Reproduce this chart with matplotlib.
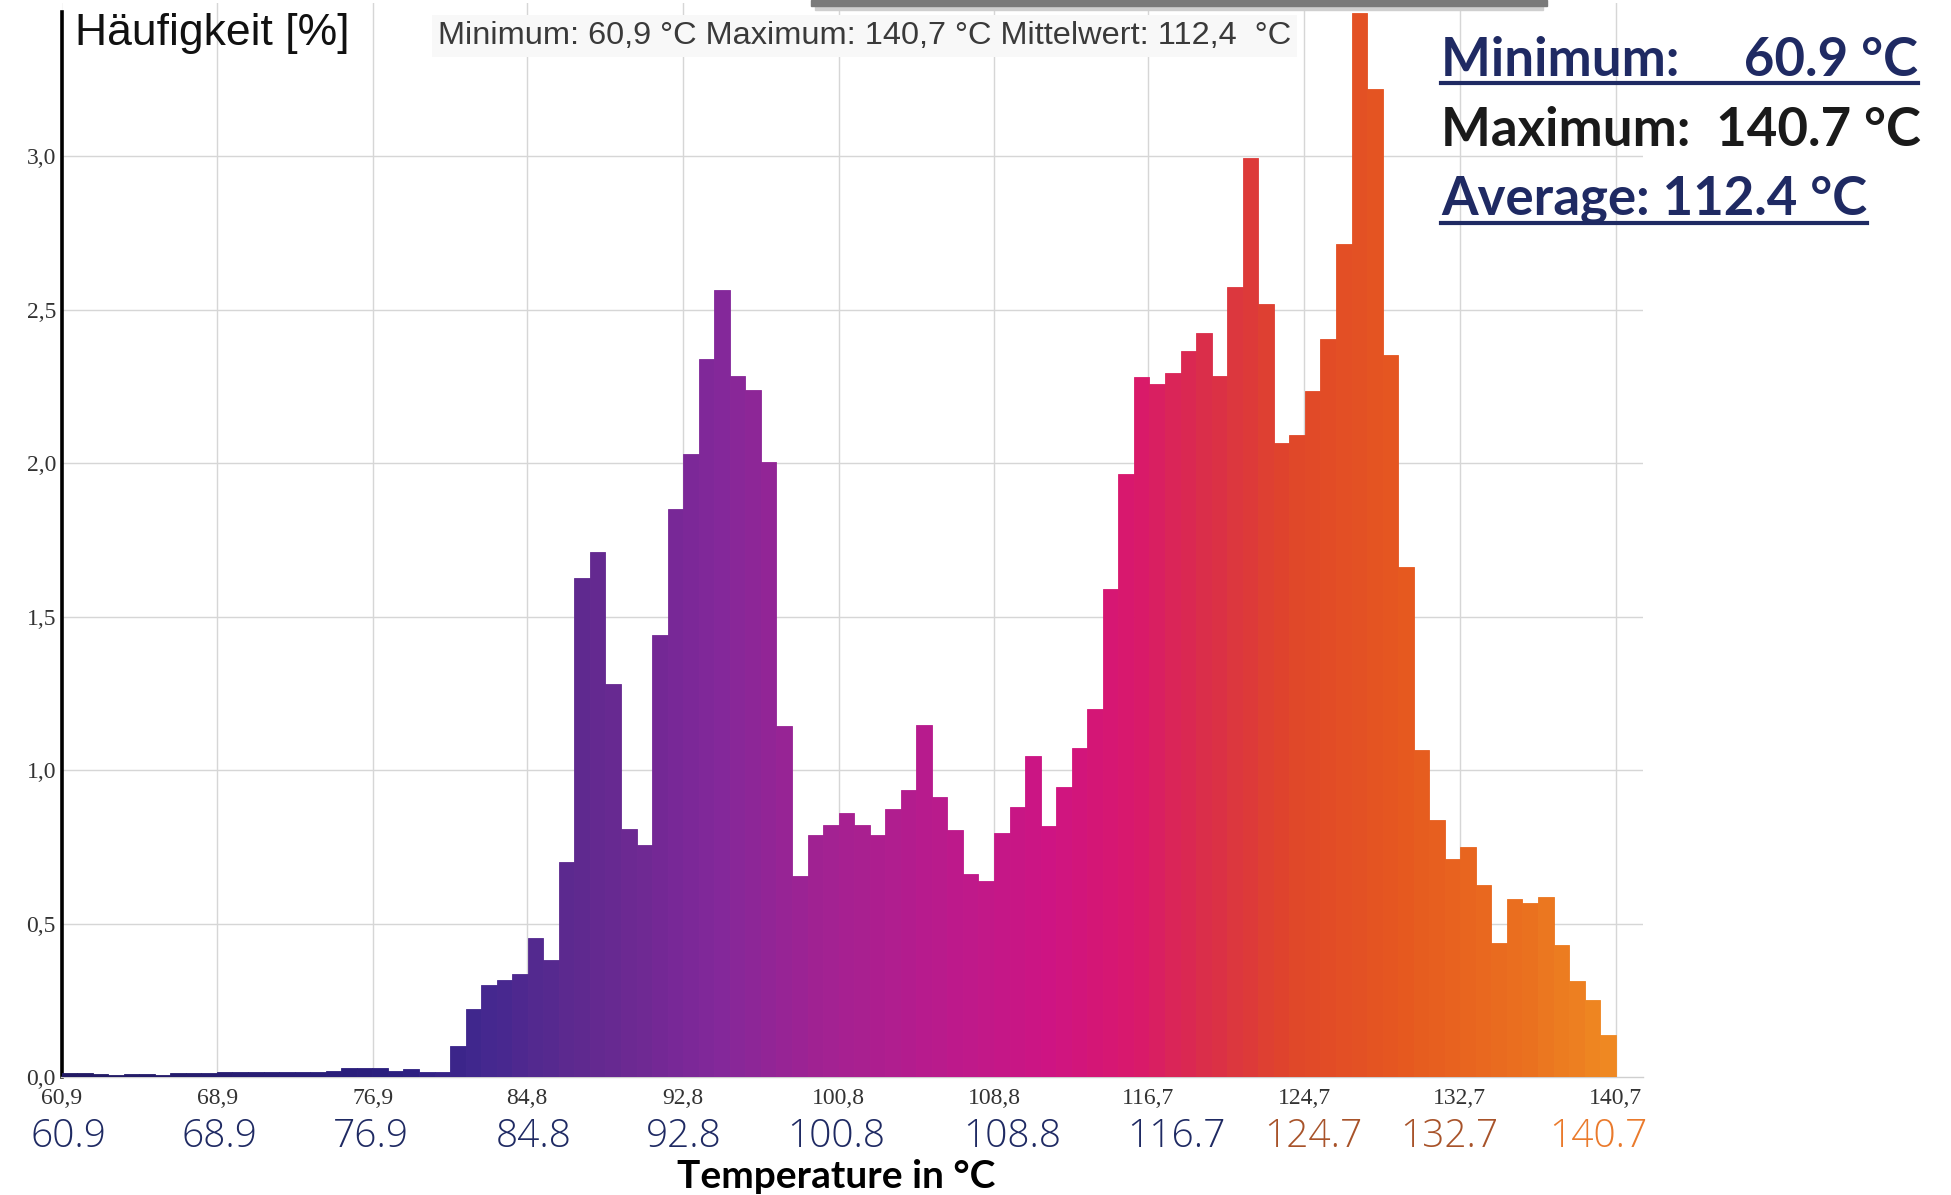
import numpy as np
import matplotlib
matplotlib.use("Agg")
import matplotlib.pyplot as plt
from matplotlib.colors import LinearSegmentedColormap
from matplotlib.lines import Line2D
from matplotlib.patches import Rectangle

# Histogram of temperature (100 bins between min and max), Häufigkeit in %
t_min = 60.9
t_max = 140.7
freq = [
    0.013, 0.013, 0.010, 0.005, 0.010, 0.010, 0.005, 0.013, 0.013, 0.013,
    0.015, 0.015, 0.015, 0.015, 0.016, 0.017, 0.017, 0.018, 0.030, 0.028,
    0.028, 0.020, 0.027, 0.015, 0.015, 0.100, 0.220, 0.300, 0.315, 0.336,
    0.453, 0.380, 0.700, 1.626, 1.710, 1.280, 0.807, 0.755, 1.440, 1.850,
    2.030, 2.340, 2.566, 2.286, 2.240, 2.005, 1.143, 0.655, 0.788, 0.820,
    0.861, 0.820, 0.790, 0.875, 0.935, 1.147, 0.913, 0.804, 0.663, 0.638,
    0.794, 0.880, 1.046, 0.818, 0.946, 1.073, 1.200, 1.590, 1.966, 2.280,
    2.260, 2.295, 2.365, 2.425, 2.285, 2.575, 2.994, 2.520, 2.066, 2.092,
    2.235, 2.405, 2.715, 3.467, 3.220, 2.354, 1.662, 1.066, 0.839, 0.710,
    0.748, 0.626, 0.438, 0.580, 0.567, 0.585, 0.430, 0.313, 0.250, 0.136,
]
x_ticks = [60.9, 68.9, 76.9, 84.8, 92.8, 100.8, 108.8, 116.7, 124.7, 132.7, 140.7]
y_ticks = [0.0, 0.5, 1.0, 1.5, 2.0, 2.5, 3.0]
big_label_colors = ["#1f2a63"] * 8 + ["#a8532a", "#a8532a", "#ea7a2c"]
# the big labels were placed by hand, a bit off the ticks (pixels)
big_label_shift = [7, 2, -2, 7, 1, -2, 18, 28, 9, -11, -17]

# colour ramp of the thermal palette
ramp = LinearSegmentedColormap.from_list("thermal", [
    (0.00, "#221a62"), (0.22, "#2c1f80"), (0.27, "#43288f"),
    (0.34, "#62298f"), (0.42, "#82289a"), (0.49, "#a22292"),
    (0.57, "#bb1a8c"), (0.64, "#cf1482"), (0.69, "#d9186c"),
    (0.74, "#da2f48"), (0.79, "#e0462a"), (0.87, "#e65a1f"),
    (0.94, "#ea6f1f"), (1.00, "#ef8a22"),
])

W, H = 1951, 1195
fig = plt.figure(figsize=(W / 100, H / 100), dpi=100)
fig.patch.set_facecolor("white")

def fx(px):
    return px / W

def fy(py):
    return 1 - py / H

ax = fig.add_axes([fx(61.5), fy(1077), (1643 - 61.5) / W, (1077 - 3) / H])

edges = np.linspace(t_min, t_max, len(freq) + 1)
width = edges[1] - edges[0]
centers = edges[:-1] + width / 2
colors = ramp((centers - t_min) / (t_max - t_min))
ax.bar(edges[:-1], freq, width=width, align="edge", color=colors,
       edgecolor=colors, linewidth=0.6, zorder=3)

ax.set_xlim(t_min, 142.1)
ax.set_ylim(0, 3.5)
ax.set_axisbelow(True)
for v in x_ticks:
    ax.axvline(v, color="#d6d6d6", lw=1.0, zorder=1)
for v in y_ticks[1:]:
    ax.axhline(v, color="#d6d6d6", lw=1.0, zorder=1)

for s in ["top", "right"]:
    ax.spines[s].set_visible(False)
ax.spines["left"].set_color("black")
ax.spines["left"].set_linewidth(2.6)
ax.spines["left"].set_bounds(0, 3.47)
ax.spines["bottom"].set_color("#cfcfcf")
ax.spines["bottom"].set_linewidth(1.0)

ax.set_yticks(y_ticks)
ax.set_yticklabels([f"{v:.1f}".replace(".", ",") for v in y_ticks])
ax.set_xticks(x_ticks)
ax.set_xticklabels([f"{v:.1f}".replace(".", ",") for v in x_ticks])
ax.tick_params(axis="both", length=0, labelsize=17, colors="#333333")
ax.tick_params(axis="y", pad=4)
ax.tick_params(axis="x", pad=8)
for lab in ax.get_xticklabels() + ax.get_yticklabels():
    lab.set_fontfamily("Liberation Serif")

# second row of big tick labels
for v, c, dx in zip(x_ticks, big_label_colors, big_label_shift):
    ax.annotate(f"{v:.1f}", xy=(v, 0), xycoords=("data", "axes fraction"),
                xytext=(dx, -60), textcoords="offset pixels",
                ha="center", va="center", fontsize=28, color=c,
                family="Open Sans", fontweight="light")

fig.text(fx(836), fy(1176), "Temperature in °C", ha="center", va="center",
         fontsize=28, fontweight="bold", family="Lato", color="black")

# header texts
fig.text(fx(75), fy(33), "Häufigkeit [%]", ha="left", va="center",
         fontsize=32, family="Liberation Sans", color="#111111")
fig.text(fx(438), fy(36), "Minimum: 60,9 °C Maximum: 140,7 °C Mittelwert: 112,4  °C",
         ha="left", va="center", fontsize=23.4, family="Liberation Sans",
         color="#3a3a3a",
         bbox=dict(facecolor="#f8f8f8", edgecolor="none", pad=4))

# grey bar of a window shadow at the top
fig.patches.append(Rectangle((fx(811), fy(6)), (1547 - 811) / W, 6 / H,
                             transform=fig.transFigure, color="#7a7a7a",
                             zorder=5))
fig.patches.append(Rectangle((fx(815), fy(10)), (1543 - 815) / W, 4 / H,
                             transform=fig.transFigure, color="#cfcfcf",
                             zorder=4))

# summary on the right
navy = "#1f2a63"
summary = [
    ("Minimum:     60.9 °C", navy, 60, True),
    ("Maximum:  140.7 °C", "#1a1a1a", 130, False),
    ("Average: 112.4 °C", navy, 200, True),
]
texts = []
for s, c, py, ul in summary:
    t = fig.text(fx(1441), fy(py), s, ha="left", va="center", fontsize=38,
                 fontweight="bold", family="Lato", color=c)
    texts.append((t, ul, c))

fig.canvas.draw()
renderer = fig.canvas.get_renderer()
for t, ul, c in texts:
    if not ul:
        continue
    bb = t.get_window_extent(renderer)
    yline = bb.y0 + 2
    fig.add_artist(Line2D([bb.x0 / W, bb.x1 / W], [yline / H, yline / H],
                          transform=fig.transFigure, color=c, lw=3))

fig.savefig("out.png", dpi=100)
